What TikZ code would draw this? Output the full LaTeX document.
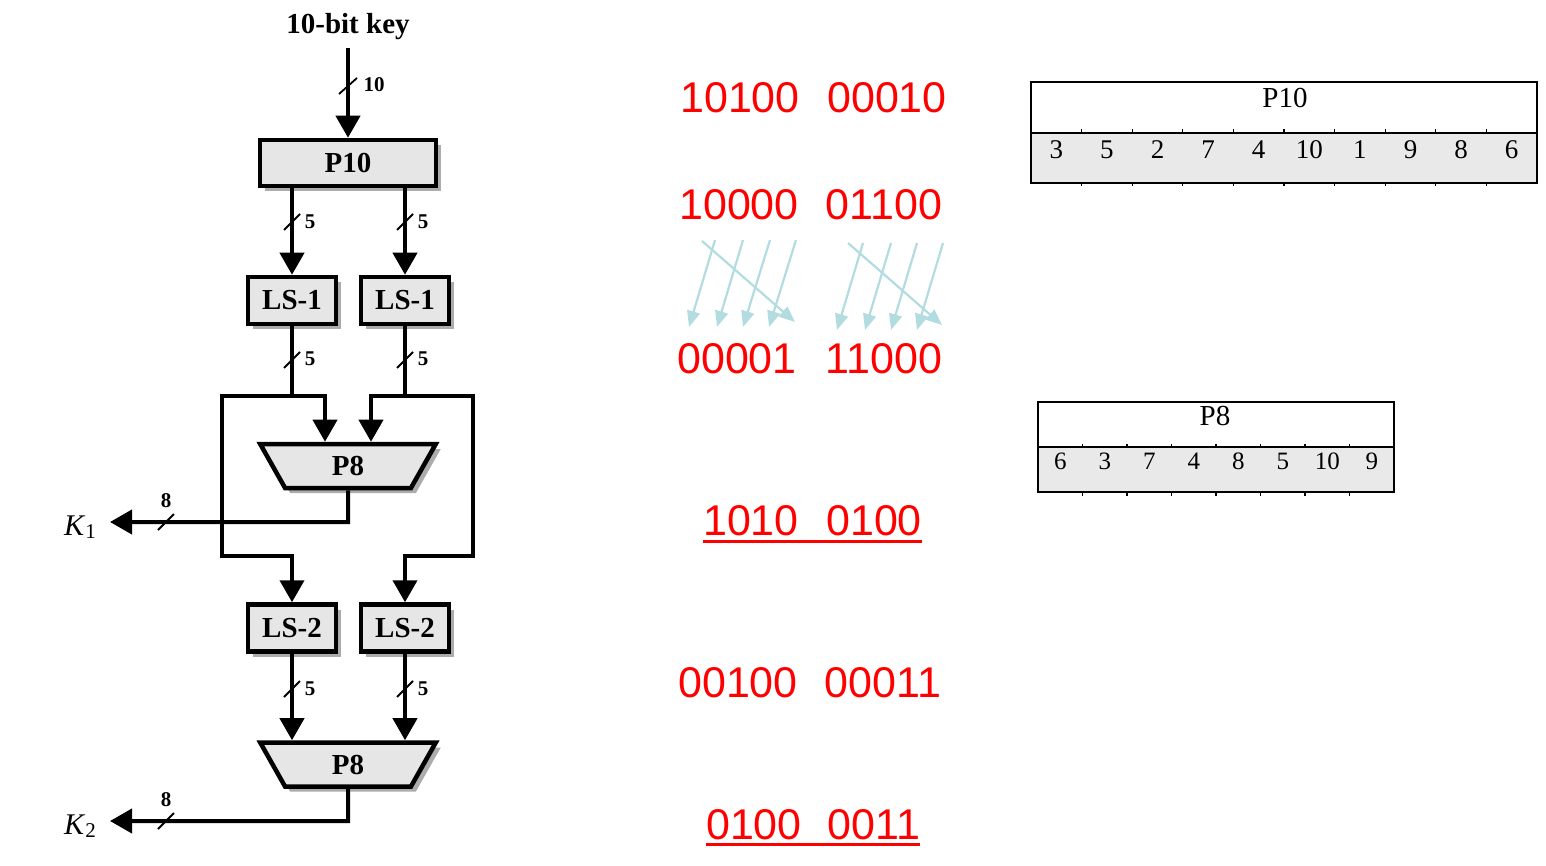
\documentclass[tikz,border=0pt]{standalone}
\usepackage{fontspec}
\setmainfont{Liberation Serif}
\newfontfamily\arialf{Liberation Sans}
\usetikzlibrary{arrows.meta,shapes.geometric,shadows}
\definecolor{cyanarr}{HTML}{B3DCE0}
\definecolor{tabgray}{HTML}{E9E9E9}
\definecolor{boxgray}{HTML}{E6E6E6}
\begin{document}
\begin{tikzpicture}[x=1pt,y=-1pt,
  blk/.style={draw, line width=4.5pt, fill=boxgray, inner sep=0pt,
    font=\bfseries\fontsize{29}{30}\selectfont,
    drop shadow={shadow xshift=5pt, shadow yshift=-5pt, fill=black!38, opacity=0.85}},
  lsbox/.style={blk, minimum width=88pt, minimum height=47pt},
  pbox/.style={blk, trapezium, shape border rotate=180, trapezium stretches=true,
    trapezium left angle=72, trapezium right angle=72, minimum width=176pt, minimum height=44pt},
  wire/.style={line width=4pt},
  conn/.style={line width=4pt, -{Triangle[width=24pt,length=22pt]}},
  conntwo/.style={line width=4pt, {Triangle[width=24pt,length=22pt]}-{Triangle[width=24pt,length=22pt]}},
  slashln/.style={line width=1.8pt},
  bits/.style={font=\bfseries\fontsize{21}{22}\selectfont, inner sep=0pt},
  redt/.style={text=red, font=\arialf\fontsize{43}{45}\selectfont, inner sep=0pt},
  uline/.style={draw=red, line width=2.2pt},
  cy/.style={draw=cyanarr, line width=2.2pt, -{Triangle[width=13pt,length=16pt]}},
  tab/.style={line width=1.6pt},
  tick/.style={line width=1.2pt},
  tabt/.style={font=\fontsize{29}{30}\selectfont, inner sep=0pt},
  tabn/.style={font=\fontsize{27}{28}\selectfont, inner sep=0pt},
  tabm/.style={font=\fontsize{25}{26}\selectfont, inner sep=0pt},
  klab/.style={font=\fontsize{30}{32}\selectfont, inner sep=0pt}
]
\useasboundingbox (0,0) rectangle (1546,866);

% ---------- key schedule diagram ----------
\node[font=\bfseries\fontsize{29}{30}\selectfont, inner sep=0pt] (key) at (348,27) {10-bit key};
\coordinate (kin) at (348,48);
\node[blk, minimum width=176pt, minimum height=46pt] (P10) at (348,163) {P10};
\node[lsbox] (LS1a) at (292,300.5) {LS-1};
\node[lsbox] (LS1b) at (405,300.5) {LS-1};
\node[pbox] (P8a) at (348,466) {P8};
\node[lsbox] (LS2a) at (292,628) {LS-2};
\node[lsbox] (LS2b) at (405,628) {LS-2};
\node[pbox] (P8b) at (348,764.5) {P8};

\draw[conn] (kin) -- (P10.north);
\draw[slashln] (348,86) +(-9,8) -- +(9,-8);
\node[bits] (b10) at (374,85) {10};

\draw[conn] (P10.south -| LS1a) -- (LS1a.north);
\draw[conn] (P10.south -| LS1b) -- (LS1b.north);
\draw[slashln] (292,222) +(-8,8) -- +(8,-8);
\draw[slashln] (405,222) +(-8,8) -- +(8,-8);
\node[bits] (b5a) at (310,222) {5};
\node[bits] (b5b) at (423,222) {5};

\coordinate (ja) at (292,396);
\coordinate (ta) at (325,396);
\coordinate (la) at (222,396);
\coordinate (lb) at (222,556);
\coordinate (lc) at (292,556);
\coordinate (jb) at (405,396);
\coordinate (tb) at (371,396);
\coordinate (ra) at (473,396);
\coordinate (rb) at (473,556);
\coordinate (rc) at (405,556);

\draw[wire] (LS1a.south) -- (ja);
\draw[wire] (LS1b.south) -- (jb);
\draw[conntwo] (ta |- P8a.north) -- (ta) -- (la) -- (lb) -- (lc) -- (LS2a.north);
\draw[conntwo] (tb |- P8a.north) -- (tb) -- (ra) -- (rb) -- (rc) -- (LS2b.north);
\draw[slashln] (292,360) +(-8,8) -- +(8,-8);
\draw[slashln] (405,360) +(-8,8) -- +(8,-8);
\node[bits] (b5c) at (310,359) {5};
\node[bits] (b5d) at (423,359) {5};

\coordinate (k1c) at (348,522);
\coordinate (k1t) at (110,522);
\draw[conn] (P8a.south) -- (k1c) -- (k1t);
\draw[slashln] (166,522) +(-8,8) -- +(8,-8);
\node[bits] (b8a) at (166,501) {8};
\node[klab] (K1) at (80,527) {\textit{K}\raisebox{-0.25ex}{\fontsize{21}{21}\selectfont 1}};

\draw[conn] (LS2a.south) -- (LS2a.south |- P8b.north);
\draw[conn] (LS2b.south) -- (LS2b.south |- P8b.north);
\draw[slashln] (292,689) +(-8,8) -- +(8,-8);
\draw[slashln] (405,689) +(-8,8) -- +(8,-8);
\node[bits] (b5e) at (310,689) {5};
\node[bits] (b5f) at (423,689) {5};

\coordinate (k2c) at (348,821);
\coordinate (k2t) at (110,821);
\draw[conn] (P8b.south) -- (k2c) -- (k2t);
\draw[slashln] (166,821) +(-8,8) -- +(8,-8);
\node[bits] (b8b) at (166,800) {8};
\node[klab] (K2) at (80,826) {\textit{K}\raisebox{-0.25ex}{\fontsize{21}{21}\selectfont 2}};

% ---------- red bit strings ----------
\node[redt] (r1a) at (740,97.5) {10100};
\node[redt] (r1b) at (887,97.5) {00010};
\node[redt] (r2a) at (739,205) {10000};
\node[redt] (r2b) at (884,205) {01100};
\node[redt] (r3a) at (737,359) {00001};
\node[redt] (r3b) at (884,359) {11000};
\node[redt] (r4a) at (751,521) {1010};
\node[redt] (r4b) at (874,521) {0100};
\draw[uline] ([yshift=-5pt]r4a.south west) -- ([yshift=-5pt]r4b.south east);
\node[redt] (r5a) at (738,683) {00100};
\node[redt] (r5b) at (883,683) {00011};
\node[redt] (r6a) at (754,825) {0100};
\node[redt] (r6b) at (874,825) {0011};
\draw[uline] ([yshift=-4pt]r6a.south west) -- ([yshift=-4pt]r6b.south east);

% ---------- cyan shift arrows ----------
\foreach \xa/\ya/\xb/\yb [count=\i] in {
  715/240/689/327, 743/240/717/327, 770/240/743/327, 796/240/769/327, 702/241/795/322,
  863/243/837/330, 891/243/865/330, 917/243/891/330, 943/243/917/330, 848/243/942/325}{
  \coordinate (cs\i) at (\xa,\ya);
  \coordinate (ce\i) at (\xb,\yb);
  \draw[cy] (cs\i) -- (ce\i);
}

% ---------- P10 table ----------
\fill[tabgray] (1031,133) rectangle (1537,183);
\draw[tab] (1031,82) rectangle (1537,183);
\draw[tab] (1031,133) -- (1537,133);
\foreach \i in {1,...,9}{
  \draw[tick] ({1031+\i*50.6},133) -- ++(0,-3.5);
  \draw[tick] ({1031+\i*50.6},183) -- ++(0,3.5);
}
\node[tabt] (p10t) at (1285,98) {P10};
\foreach \v [count=\i] in {3,5,2,7,4,10,1,9,8,6}
  \node[tabn] (pa\i) at ({1031+(\i-0.5)*50.6},150) {\v};

% ---------- P8 table ----------
\fill[tabgray] (1038,447) rectangle (1394,492);
\draw[tab] (1038,402) rectangle (1394,492);
\draw[tab] (1038,447) -- (1394,447);
\foreach \i in {1,...,7}{
  \draw[tick] ({1038+\i*44.5},447) -- ++(0,-3.5);
  \draw[tick] ({1038+\i*44.5},492) -- ++(0,3.5);
}
\node[tabt] (p8t) at (1215,416) {P8};
\foreach \v [count=\i] in {6,3,7,4,8,5,10,9}
  \node[tabm] (pb\i) at ({1038+(\i-0.5)*44.5},461) {\v};
\end{tikzpicture}
\end{document}
